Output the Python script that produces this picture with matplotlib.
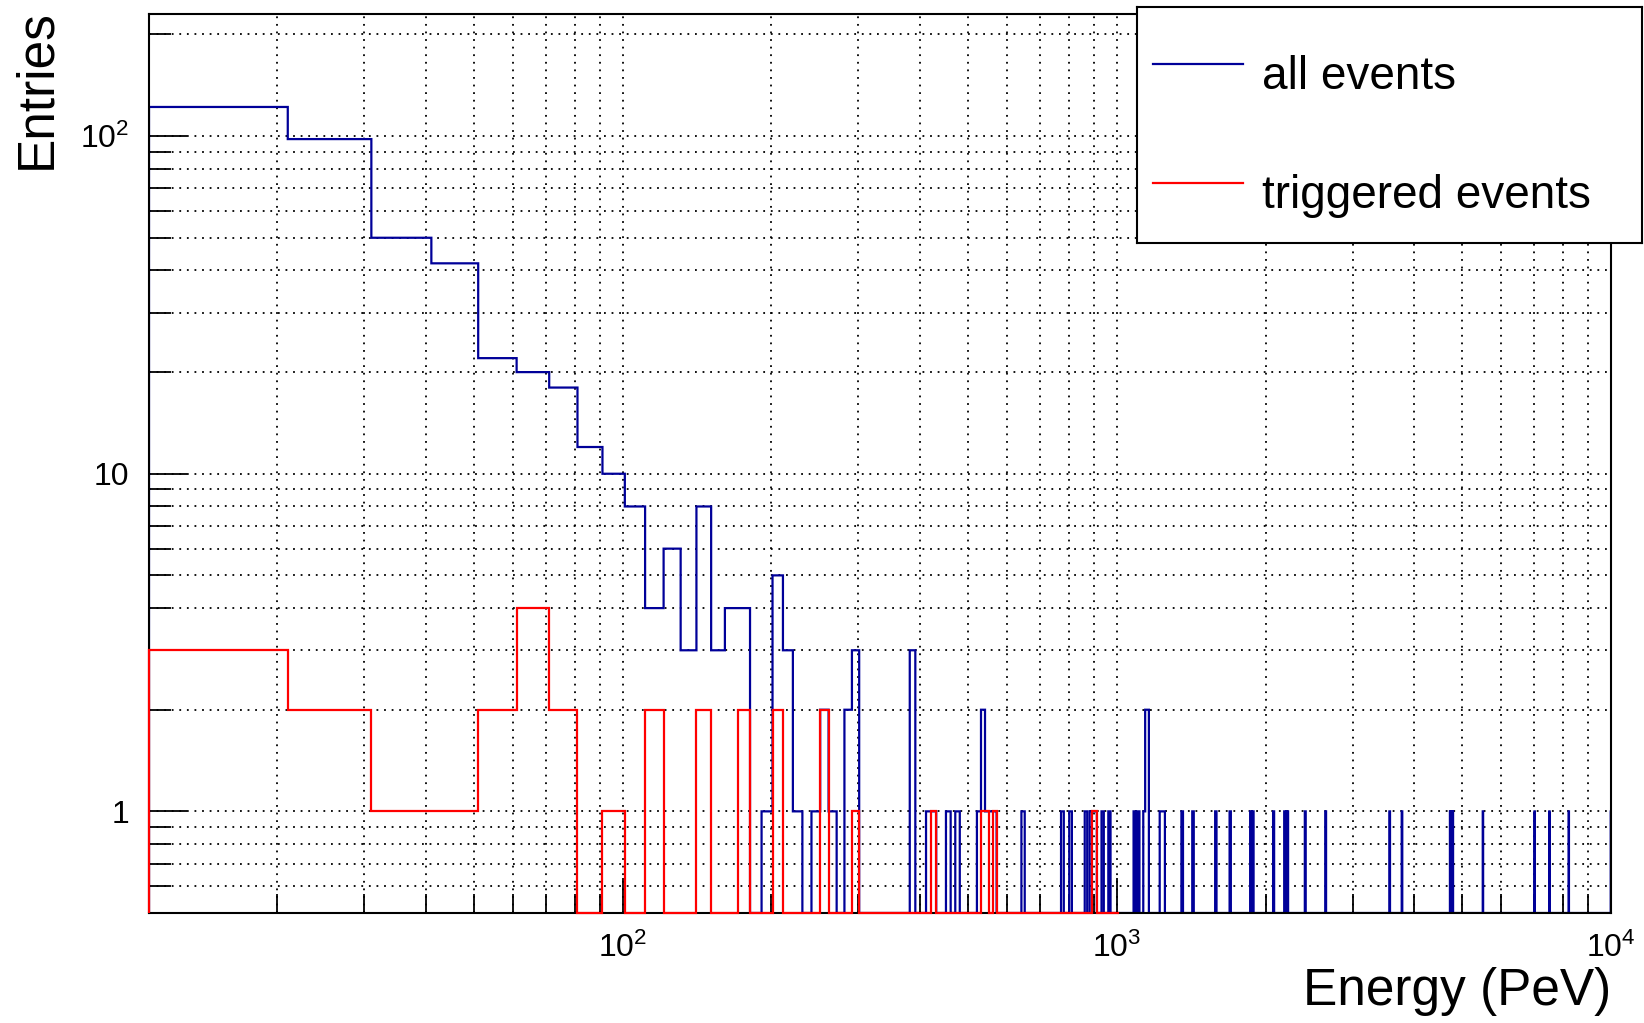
import matplotlib

matplotlib.use("Agg")
import matplotlib.pyplot as plt
import numpy as np
from matplotlib.lines import Line2D
from matplotlib.ticker import FixedFormatter, FixedLocator, NullFormatter

plt.rcParams["font.family"] = ["Liberation Sans", "DejaVu Sans"]
plt.rcParams["mathtext.fontset"] = "custom"
plt.rcParams["mathtext.rm"] = "Liberation Sans"
plt.rcParams["mathtext.it"] = "Liberation Sans:italic"
plt.rcParams["mathtext.bf"] = "Liberation Sans:bold"

# Histogram binning: 10 PeV wide bins starting at 11 PeV.
BIN_WIDTH = 10
E_MIN = 11
E_MAX = 10000
N_BINS_ALL = 1000  # all events: 11 .. 10011 PeV
N_BINS_TRIG = 100  # triggered events: 11 .. 1011 PeV
Y_MIN = 0.5
Y_MAX = 230

# Non-empty bins, given by their lower edge (PeV) and entry count.
ALL_BIN_START = [
    11, 21, 31, 41, 51, 61, 71, 81, 91, 101, 111, 121, 131, 141, 151, 161,
    171, 191, 201, 211, 221, 241, 251, 261, 281, 291, 381, 411, 421, 451,
    471, 521, 531, 541, 551, 561, 641, 771, 801, 861, 881, 891, 901, 931,
    961, 1081, 1101, 1131, 1141, 1151, 1221, 1231, 1241, 1351, 1421, 1581,
    1691, 1861, 1881, 2071, 2181, 2201, 2211, 2401, 2641, 3561, 3771, 4721,
    4741, 4761, 4781, 5501, 7001, 7501, 8211, 9991,
]
ALL_COUNTS = [
    122, 98, 50, 42, 22, 20, 18, 12, 10, 8, 4, 6, 3, 8, 3, 4,
    4, 1, 5, 3, 1, 1, 2, 1, 2, 3, 3, 1, 1, 1,
    1, 1, 2, 1, 1, 1, 1, 1, 1, 1, 1, 1, 1, 1,
    1, 1, 1, 1, 2, 2, 1, 1, 1, 1, 1, 1,
    1, 1, 1, 1, 1, 1, 1, 1, 1, 1, 1, 1,
    1, 1, 1, 1, 1, 1, 1, 1,
]

TRIG_BIN_START = [
    11, 21, 31, 41, 51, 61, 71, 91, 111, 141, 171, 201, 251, 291, 421, 531,
    541, 561, 891, 901,
]
TRIG_COUNTS = [
    3, 2, 1, 1, 2, 4, 2, 1, 2, 2, 2, 2, 2, 1, 1, 1,
    1, 1, 1, 1,
]

LABELS = ["all events", "triggered events"]
BLUE = "#000099"
RED = "#ff0000"


def bin_contents(starts, counts, n_bins):
    """Turn the sparse (lower edge, count) lists into a full bin array."""
    values = np.zeros(n_bins)
    for start, count in zip(starts, counts):
        values[(start - E_MIN) // BIN_WIDTH] = count
    return values


all_values = bin_contents(ALL_BIN_START, ALL_COUNTS, N_BINS_ALL)
trig_values = bin_contents(TRIG_BIN_START, TRIG_COUNTS, N_BINS_TRIG)
all_edges = E_MIN + BIN_WIDTH * np.arange(N_BINS_ALL + 1)
trig_edges = E_MIN + BIN_WIDTH * np.arange(N_BINS_TRIG + 1)

# Like ROOT, empty bins sit on the lower edge of the frame.
all_drawn = np.where(all_values > 0, all_values, Y_MIN)
trig_drawn = np.where(trig_values > 0, trig_values, Y_MIN)

fig = plt.figure(figsize=(16.44, 10.23), dpi=100)
ax = fig.add_axes([149 / 1644, 1 - 913 / 1023, (1611 - 149) / 1644, (913 - 14) / 1023])

ax.stairs(all_drawn, all_edges, baseline=Y_MIN, color=BLUE, lw=1.6, zorder=2)
ax.stairs(trig_drawn, trig_edges, baseline=Y_MIN, color=RED, lw=1.6, zorder=3,
          clip_on=False)

ax.set_xscale("log")
ax.set_yscale("log")
ax.set_xlim(E_MIN, E_MAX)
ax.set_ylim(Y_MIN, Y_MAX)

x_major = [100, 1000, 10000]
x_minor = [m * d for d in (10, 100, 1000) for m in range(2, 10)]
y_major = [1, 10, 100]
y_minor = [0.6, 0.7, 0.8, 0.9] + [m * d for d in (1, 10) for m in range(2, 10)] + [200]

ax.xaxis.set_major_locator(FixedLocator(x_major))
ax.xaxis.set_major_formatter(
    FixedFormatter([r"$\mathregular{10^{2}}$", r"$\mathregular{10^{3}}$", r"$\mathregular{10^{4}}$"])
)
ax.xaxis.set_minor_locator(FixedLocator(x_minor))
ax.xaxis.set_minor_formatter(NullFormatter())
ax.yaxis.set_major_locator(FixedLocator(y_major))
ax.yaxis.set_major_formatter(FixedFormatter(["1", "10", r"$\mathregular{10^{2}}$"]))
ax.yaxis.set_minor_locator(FixedLocator(y_minor))
ax.yaxis.set_minor_formatter(NullFormatter())

ax.tick_params(which="both", direction="in", top=False, right=False, width=1.3,
               labelsize=23)
ax.tick_params(axis="x", which="major", length=25, pad=14)
ax.tick_params(axis="x", which="minor", length=14)
ax.tick_params(axis="y", which="major", length=27, pad=14)
ax.tick_params(axis="y", which="minor", length=16)

ax.grid(which="both", color="black", linestyle=(0, (1, 3.2)), linewidth=1.3)
ax.set_axisbelow(True)
for spine in ax.spines.values():
    spine.set_linewidth(1.5)

fig.text(1611 / 1644, 1 - 1005 / 1023, "Energy (PeV)", fontsize=37, ha="right",
         va="baseline")
fig.text(61 / 1644, 1 - 9 / 1023, "Entries", fontsize=37, rotation=90, ha="right",
         va="top")

# ROOT-style legend box in the top right corner.
leg = fig.add_axes([1137 / 1644, 1 - 243 / 1023, 505 / 1644, 236 / 1023])
leg.set_xlim(0, 1)
leg.set_ylim(0, 1)
leg.set_xticks([])
leg.set_yticks([])
for spine in leg.spines.values():
    spine.set_linewidth(1.5)
for label, color, line_y, text_y in zip(LABELS, [BLUE, RED], [0.757, 0.253], [0.651, 0.147]):
    leg.add_line(Line2D([0.031, 0.2105], [line_y, line_y], color=color, lw=1.6))
    leg.text(0.247, text_y, label, fontsize=33, va="baseline", ha="left")

fig.savefig("out.png", dpi=100)
